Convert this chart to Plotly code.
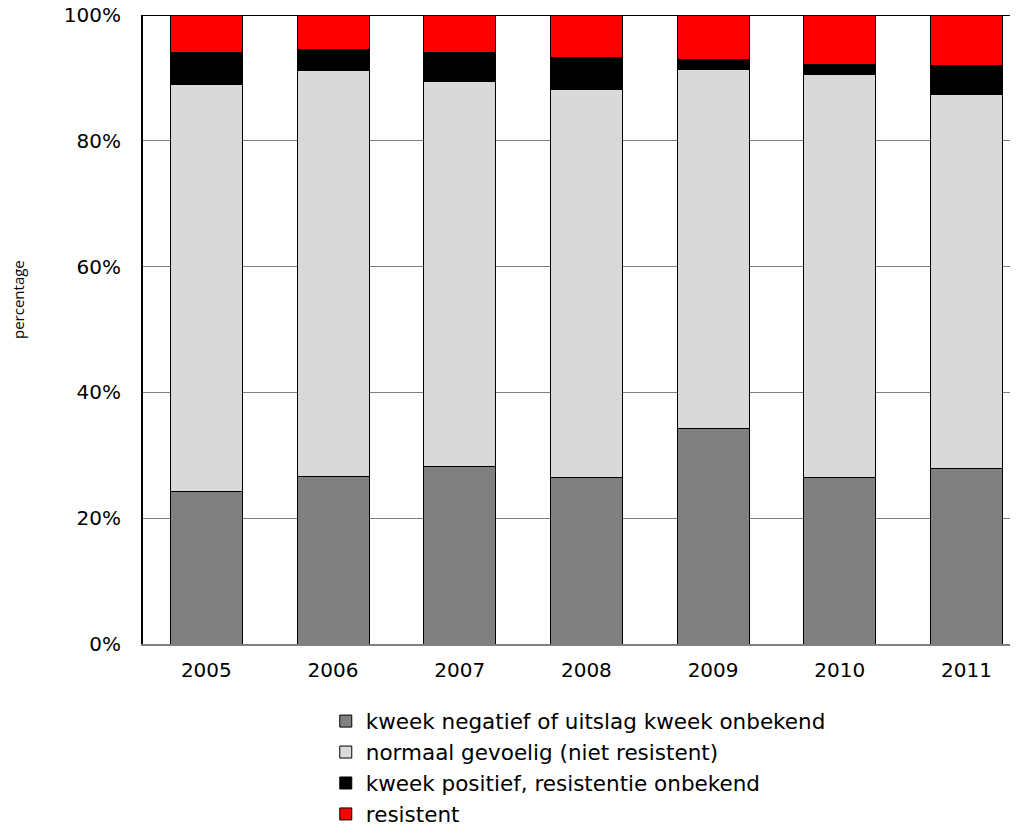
import plotly.graph_objects as go

# data (percent of total per year)
years = ["2005", "2006", "2007", "2008", "2009", "2010", "2011"]
negatief = [24.3, 26.7, 28.2, 26.5, 34.2, 26.5, 27.9]
gevoelig = [64.6, 64.4, 61.3, 61.7, 57.2, 64.0, 59.5]
onbekend = [5.2, 3.4, 4.6, 5.0, 1.5, 1.6, 4.6]
resistent = [5.9, 5.5, 5.9, 6.8, 7.1, 7.9, 8.0]

series_names = [
    "kweek negatief of uitslag kweek onbekend",
    "normaal gevoelig (niet resistent)",
    "kweek positief, resistentie onbekend",
    "resistent",
]
series_values = [negatief, gevoelig, onbekend, resistent]
series_colors = ["#808080", "#d9d9d9", "#000000", "#ff0000"]

FONT = "DejaVu Sans"

fig = go.Figure()
for name, vals, col in zip(series_names, series_values, series_colors):
    fig.add_trace(go.Bar(
        x=years,
        y=[v / 100 for v in vals],
        name=name,
        marker=dict(color=col, line=dict(color="#000000", width=1)),
        width=0.568,
    ))

fig.update_layout(
    barmode="stack",
    width=1018,
    height=838,
    margin=dict(l=135, r=0, t=7, b=202, autoexpand=False),
    plot_bgcolor="white",
    paper_bgcolor="white",
    font=dict(family=FONT, size=20, color="#000000"),
    showlegend=True,
    legend=dict(
        orientation="v",
        traceorder="normal",
        x=0.207, xanchor="left",
        y=-0.090, yanchor="top",
        font=dict(family=FONT, size=21.5),
        itemwidth=30,
        tracegroupgap=0,
    ),
    xaxis=dict(
        type="category",
        range=[-0.5, 6.47],
        showgrid=False,
        showline=True,
        linecolor="#808080",
        linewidth=2,
        ticks="",
        ticklabelstandoff=7,
        tickfont=dict(family=FONT, size=20),
        automargin=False,
    ),
    yaxis=dict(
        range=[0, 1],
        dtick=0.2,
        tickformat=".0%",
        showgrid=True,
        gridcolor="#808080",
        gridwidth=1,
        showline=True,
        linecolor="#000000",
        linewidth=2,
        ticks="",
        ticklabelstandoff=16,
        ticklabeloverflow="allow",
        tickfont=dict(family=FONT, size=20),
        zeroline=False,
        automargin=False,
    ),
    shapes=[dict(
        type="line", xref="paper", yref="y",
        x0=0, x1=1, y0=1, y1=1,
        line=dict(color="#000000", width=2),
        layer="below",
    )],
    annotations=[dict(
        text="percentage",
        xref="paper", yref="paper",
        x=(10 - 135) / 883, y=(636 - 292) / 629,
        xanchor="center", yanchor="middle",
        textangle=-90,
        showarrow=False,
        font=dict(family="Open Sans", size=15, color="#000000"),
    )],
)

fig.write_html("out.html")
